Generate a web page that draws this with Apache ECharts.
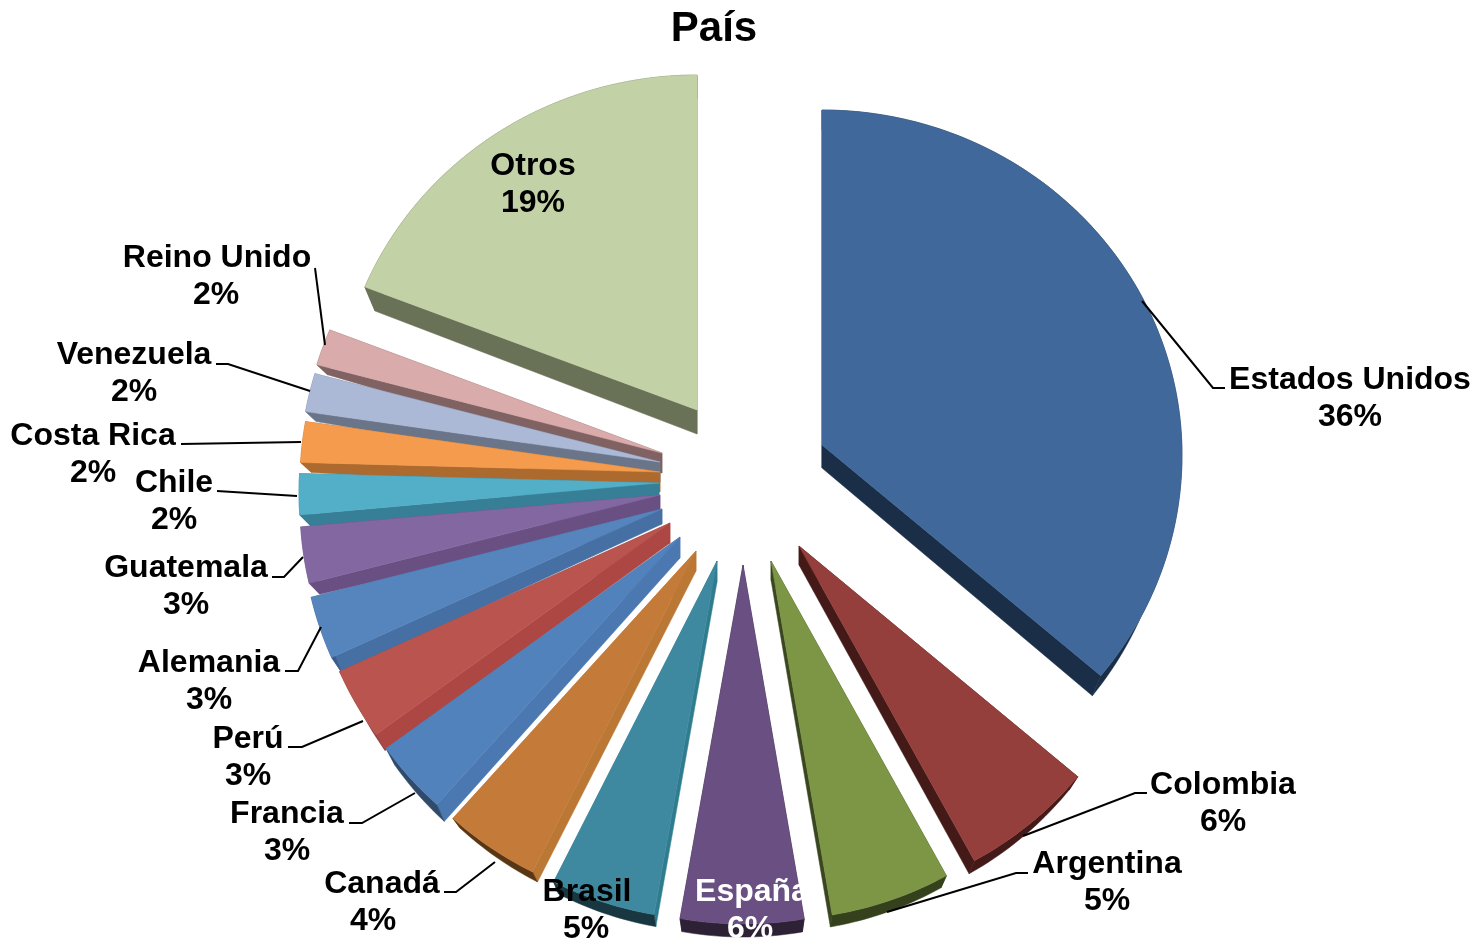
<!DOCTYPE html>
<html>
<head>
<meta charset="utf-8">
<style>html,body{margin:0;padding:0;background:#fff}#c{width:1482px;height:939px}</style>
<script src="https://cdn.jsdelivr.net/npm/echarts@6/dist/echarts.min.js"></script>
</head>
<body>
<div id="c"></div>
<script>
// ---- data
const titleText = 'País';
const countries = ['Estados Unidos','Colombia','Argentina','España','Brasil','Canadá','Francia','Perú','Alemania','Guatemala','Chile','Costa Rica','Venezuela','Reino Unido','Otros'];
const shares = [35.9,6.0,5.38,5.52,4.7,4.3,3.4,3.3,2.9,2.6,1.9,1.9,1.8,1.7,18.7];

// ---- styles
const topColors  = ['#40689a','#953f3c','#7d9645','#694f82','#3f89a0','#c47b3a','#5282bb','#b9544f','#5585bc','#8367a0','#53aec8','#f59b4d','#abb9d6','#d9abab','#c3d1a7'];
const edgeColors = ['#1a2e47','#431a17','#3a4620','#2d2136','#2f7c8f','#bb7734','#4b78b0','#ac4743','#466fa3','#694f82','#367f96','#ac6a2e','#6b7589','#806262','#697157'];
const arcColors  = ['#1a2e47','#431a17','#35401c','#2d2136','#193741','#5a3714','#2f4a6b','#8a3a37','#3a5c88','#694f82','#367f96','#ac6a2e','#6b7589','#806262','#697157'];

// ---- layout of the exploded, tilted pie
const pieCenter = [733,482];
const radiusX = 360, radiusYTop = 345, radiusYBottom = 349, apexLift = 10, tiltX = 11;
const explode = [[89,-37],[66,64],[38,79],[10,83],[-16,79],[-37,69],[-53,55],[-63,41],[-71,27],[-73,13],[-74,1],[-73,-10],[-73,-20],[-71,-29],[-36,-72]];
const apexDepth = [23,19,19,13,21,20,21,20,15,20,20,20,20,20,24];
const rimDepth  = [20,13,12,13,12,10,17,16,15,11,11,10,10,10,24];

// ---- label layout: name x, percent x, name y, percent y
const labelPos = [[1350,1350,380,417],[1223,1223,785,822],[1107,1107,864,901],[752,750,892,929],[587,586,892,929],[382,373,884,921],[287,287,814,851],[248,248,739,776],[209,209,663,700],[186,186,568,605],[174,174,483,520],[93,93,436,473],[134,134,355,392],[217,216,258,295],[533,533,166,203]];
const labelColors = countries.map(c => c === 'España' ? '#ffffff' : '#000000');
const leaders = [
  [[1142,301],[1213,388],[1225,388]],
  [[1023,836],[1135,793],[1147,793]],
  [[887,912],[1016,873],[1028,873]],
  null,
  null,
  [[495,862],[456,892],[444,892]],
  [[415,793],[362,823],[349,823]],
  [[363,721],[302,747],[288,747]],
  [[321,627],[298,671],[285,671]],
  [[303,557],[284,577],[272,577]],
  [[297,496],[217,491]],
  [[301,442],[181,444]],
  [[310,391],[228,364],[216,364]],
  [[325,345],[315,268]],
  null
];

const FONT = '"Liberation Sans", Arial, sans-serif';
const total = shares.reduce((a,b)=>a+b,0);
const startShare = shares.map((_,i)=>shares.slice(0,i).reduce((a,b)=>a+b,0));

function renderSlice(params, api){
  const i = params.dataIndex;
  const v = api.value(0);
  const a0 = startShare[i]/total*2*Math.PI;
  const a1 = a0 + v/total*2*Math.PI;
  const ax = pieCenter[0]+explode[i][0], ay = pieCenter[1]+explode[i][1];
  const n = Math.max(4, Math.ceil((a1-a0)*180/Math.PI));
  const rim = [], rimLow = [];
  for(let k=0;k<=n;k++){
    const t = a0+(a1-a0)*k/n;
    const c = Math.cos(t);
    const x = ax+radiusX*Math.sin(t), y = ay+apexLift-(c>0?radiusYTop:radiusYBottom)*c;
    rim.push([x,y]);
    rimLow.push([x-tiltX*Math.sin(t), y+rimDepth[i]]);
  }
  const apex=[ax,ay], apexLow=[ax,ay+apexDepth[i]];
  const z = (countries.length-i)*4;
  const poly=(pts,fill,zz)=>({type:'polygon',z2:zz,silent:true,shape:{points:pts},style:{fill:fill,stroke:fill,lineWidth:0.5}});
  const children=[
    poly([apex,rim[0],rimLow[0],apexLow],edgeColors[i],z),
    poly([apex,rim[n],rimLow[n],apexLow],edgeColors[i],z),
    poly(rim.concat(rimLow.slice().reverse()),arcColors[i],z+1),
    poly([apex].concat(rim),topColors[i],z+2)
  ];
  if(leaders[i]){
    children.push({type:'polyline',z2:200,silent:true,shape:{points:leaders[i]},style:{fill:null,stroke:'#000',lineWidth:2}});
  }
  const p=labelPos[i];
  const txt=(s,x,y)=>({type:'text',z2:300,silent:true,style:{text:s,x:x,y:y,align:'center',verticalAlign:'middle',font:'bold 32px '+FONT,fill:labelColors[i]}});
  children.push(txt(countries[i],p[0],p[2]));
  children.push(txt(Math.round(v/total*100)+'%',p[1],p[3]));
  return {type:'group',children:children};
}

const chart = echarts.init(document.getElementById('c'));
chart.setOption({
  animation:false,
  backgroundColor:'#fff',
  title:{text:titleText,left:709,top:3,textAlign:'center',textStyle:{fontFamily:FONT,fontWeight:'bold',fontSize:42,color:'#000'}},
  series:[{
    type:'custom',
    coordinateSystem:'none',
    clip:false,
    silent:true,
    renderItem:renderSlice,
    data:countries.map((c,i)=>({name:c,value:[shares[i]]}))
  }]
});
</script>
</body>
</html>
